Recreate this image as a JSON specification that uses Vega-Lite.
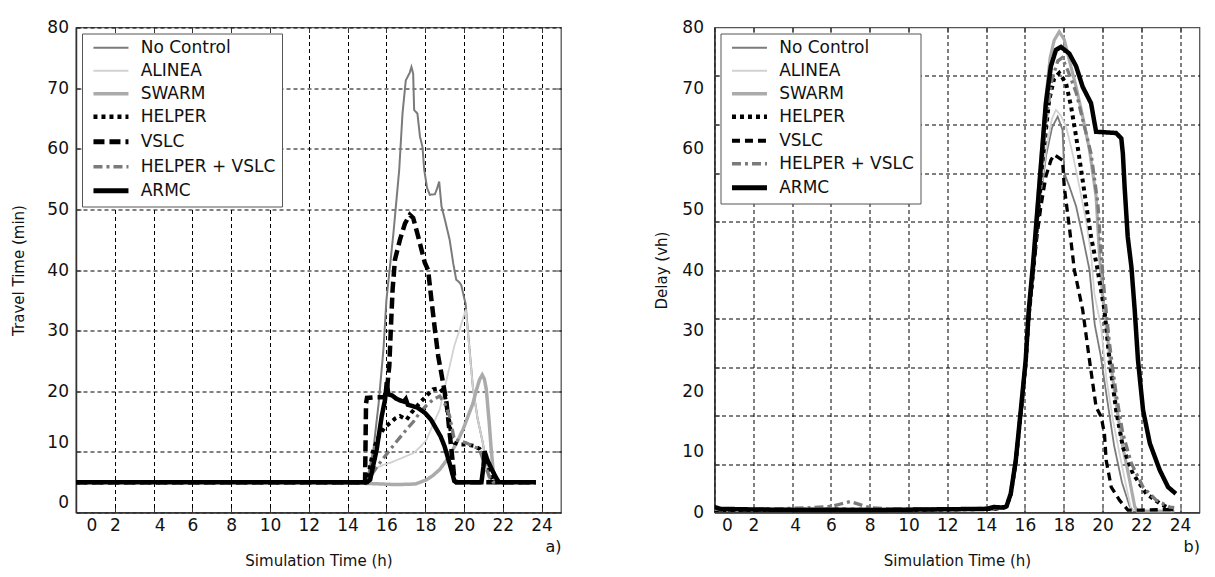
{
"$schema":"https://vega.github.io/schema/vega-lite/v6.json",
"background":"white",
"padding":{"left":11,"top":17.5,"right":5,"bottom":5},
"config":{
 "font":"DejaVu Sans",
 "view":{"stroke":"#555","strokeWidth":1.3},
 "axis":{"labelFont":"DejaVu Sans","labelFontSize":17,"labelColor":"#111","titleFont":"DejaVu Sans","titleFontSize":15,"titleFontWeight":"normal","titleColor":"#111","gridColor":"#000","gridDash":[4,3],"gridOpacity":1,"gridWidth":1,"domainColor":"#333","domainWidth":1.5,"tickColor":"#333","tickSize":-5,"tickWidth":1},
 "legend":{"labelFont":"DejaVu Sans","labelFontSize":17,"labelColor":"#111","symbolType":"M-0.39,0H4.61","symbolSize":196,"labelOffset":36,"rowPadding":5,"padding":5.7,"strokeColor":"#555","fillColor":"white","orient":"top-left","offset":6,"title":null,"labelLimit":300}
},
"datasets":{
"tt":[
{"s":"No Control","h":0,"v":5},{"s":"No Control","h":3,"v":5.1},{"s":"No Control","h":6,"v":4.9},{"s":"No Control","h":9,"v":5},{"s":"No Control","h":12,"v":5},{"s":"No Control","h":14.9,"v":5},{"s":"No Control","h":15.0,"v":5.3},{"s":"No Control","h":15.33,"v":10.4},{"s":"No Control","h":15.6,"v":18},{"s":"No Control","h":15.85,"v":27},{"s":"No Control","h":16.0,"v":35},{"s":"No Control","h":16.36,"v":46},{"s":"No Control","h":16.66,"v":56.5},{"s":"No Control","h":16.83,"v":65.8},{"s":"No Control","h":17.0,"v":71.3},{"s":"No Control","h":17.2,"v":72.5},{"s":"No Control","h":17.29,"v":73.5},{"s":"No Control","h":17.38,"v":72.4},{"s":"No Control","h":17.43,"v":66.4},{"s":"No Control","h":17.6,"v":65.8},{"s":"No Control","h":17.73,"v":62},{"s":"No Control","h":17.86,"v":60.3},{"s":"No Control","h":17.95,"v":56.5},{"s":"No Control","h":18.1,"v":53.5},{"s":"No Control","h":18.24,"v":52.4},{"s":"No Control","h":18.5,"v":52.5},{"s":"No Control","h":18.62,"v":53.5},{"s":"No Control","h":18.72,"v":54.6},{"s":"No Control","h":18.84,"v":50.5},{"s":"No Control","h":19.0,"v":48.5},{"s":"No Control","h":19.26,"v":45},{"s":"No Control","h":19.45,"v":41},{"s":"No Control","h":19.6,"v":38.4},{"s":"No Control","h":19.75,"v":38},{"s":"No Control","h":19.86,"v":37.5},{"s":"No Control","h":20.0,"v":35.5},{"s":"No Control","h":20.08,"v":34.5},{"s":"No Control","h":20.2,"v":30},{"s":"No Control","h":20.46,"v":20.6},{"s":"No Control","h":20.7,"v":15.5},{"s":"No Control","h":20.97,"v":11.5},{"s":"No Control","h":21.15,"v":8},{"s":"No Control","h":21.3,"v":5.4},{"s":"No Control","h":21.5,"v":5},{"s":"No Control","h":23.7,"v":5},
{"s":"ALINEA","h":0,"v":5},{"s":"ALINEA","h":4,"v":5},{"s":"ALINEA","h":8,"v":5},{"s":"ALINEA","h":12,"v":5},{"s":"ALINEA","h":15.0,"v":5},{"s":"ALINEA","h":15.33,"v":7.1},{"s":"ALINEA","h":15.8,"v":7.8},{"s":"ALINEA","h":16.2,"v":8.2},{"s":"ALINEA","h":16.8,"v":9},{"s":"ALINEA","h":17.4,"v":9.8},{"s":"ALINEA","h":17.8,"v":11},{"s":"ALINEA","h":18.07,"v":12},{"s":"ALINEA","h":18.4,"v":14.5},{"s":"ALINEA","h":18.75,"v":17},{"s":"ALINEA","h":19.0,"v":20.5},{"s":"ALINEA","h":19.26,"v":24.1},{"s":"ALINEA","h":19.5,"v":27.5},{"s":"ALINEA","h":19.78,"v":30.2},{"s":"ALINEA","h":20.09,"v":33.5},{"s":"ALINEA","h":20.25,"v":28},{"s":"ALINEA","h":20.46,"v":20.6},{"s":"ALINEA","h":20.7,"v":15.5},{"s":"ALINEA","h":20.97,"v":11.5},{"s":"ALINEA","h":21.15,"v":8},{"s":"ALINEA","h":21.3,"v":5.4},{"s":"ALINEA","h":21.45,"v":5},{"s":"ALINEA","h":23.7,"v":5},
{"s":"SWARM","h":0,"v":5},{"s":"SWARM","h":4,"v":5},{"s":"SWARM","h":8,"v":5},{"s":"SWARM","h":12,"v":5},{"s":"SWARM","h":15.0,"v":4.8},{"s":"SWARM","h":16.5,"v":4.6},{"s":"SWARM","h":17.5,"v":4.7},{"s":"SWARM","h":18.07,"v":5.4},{"s":"SWARM","h":18.4,"v":6.1},{"s":"SWARM","h":18.75,"v":7.1},{"s":"SWARM","h":19.1,"v":8.6},{"s":"SWARM","h":19.43,"v":10.4},{"s":"SWARM","h":19.7,"v":12},{"s":"SWARM","h":19.95,"v":13.7},{"s":"SWARM","h":20.2,"v":15.8},{"s":"SWARM","h":20.46,"v":18},{"s":"SWARM","h":20.65,"v":20.3},{"s":"SWARM","h":20.8,"v":21.9},{"s":"SWARM","h":20.94,"v":22.7},{"s":"SWARM","h":21.05,"v":22},{"s":"SWARM","h":21.15,"v":20.3},{"s":"SWARM","h":21.3,"v":14.8},{"s":"SWARM","h":21.4,"v":10.5},{"s":"SWARM","h":21.5,"v":7.1},{"s":"SWARM","h":21.6,"v":5},{"s":"SWARM","h":23.7,"v":5},
{"s":"HELPER","h":0,"v":5},{"s":"HELPER","h":4,"v":5},{"s":"HELPER","h":8,"v":5},{"s":"HELPER","h":12,"v":5},{"s":"HELPER","h":15.0,"v":5},{"s":"HELPER","h":15.15,"v":7.5},{"s":"HELPER","h":15.33,"v":10.4},{"s":"HELPER","h":15.6,"v":12.5},{"s":"HELPER","h":15.9,"v":14},{"s":"HELPER","h":16.2,"v":14.8},{"s":"HELPER","h":16.45,"v":15.5},{"s":"HELPER","h":16.7,"v":15.9},{"s":"HELPER","h":17.04,"v":15.3},{"s":"HELPER","h":17.3,"v":16.5},{"s":"HELPER","h":17.7,"v":18},{"s":"HELPER","h":18.05,"v":19.2},{"s":"HELPER","h":18.4,"v":20.3},{"s":"HELPER","h":18.75,"v":20.5},{"s":"HELPER","h":19.0,"v":19.5},{"s":"HELPER","h":19.2,"v":16},{"s":"HELPER","h":19.35,"v":12.5},{"s":"HELPER","h":19.5,"v":11.5},{"s":"HELPER","h":19.8,"v":11.2},{"s":"HELPER","h":20.1,"v":11.2},{"s":"HELPER","h":20.5,"v":11},{"s":"HELPER","h":20.8,"v":10.5},{"s":"HELPER","h":21.0,"v":9.5},{"s":"HELPER","h":21.2,"v":8},{"s":"HELPER","h":21.4,"v":6},{"s":"HELPER","h":21.55,"v":5},{"s":"HELPER","h":23.7,"v":5},
{"s":"VSLC","h":0,"v":5},{"s":"VSLC","h":4,"v":5},{"s":"VSLC","h":8,"v":5},{"s":"VSLC","h":12,"v":5},{"s":"VSLC","h":14.9,"v":5},{"s":"VSLC","h":14.95,"v":18},{"s":"VSLC","h":15.0,"v":18.9},{"s":"VSLC","h":15.4,"v":19},{"s":"VSLC","h":15.9,"v":19},{"s":"VSLC","h":16.05,"v":21},{"s":"VSLC","h":16.15,"v":24.2},{"s":"VSLC","h":16.22,"v":29.6},{"s":"VSLC","h":16.32,"v":36.8},{"s":"VSLC","h":16.44,"v":41.7},{"s":"VSLC","h":16.7,"v":45},{"s":"VSLC","h":16.96,"v":47.7},{"s":"VSLC","h":17.21,"v":49.1},{"s":"VSLC","h":17.38,"v":48.6},{"s":"VSLC","h":17.64,"v":45.5},{"s":"VSLC","h":17.98,"v":41.2},{"s":"VSLC","h":18.15,"v":40},{"s":"VSLC","h":18.32,"v":35.1},{"s":"VSLC","h":18.5,"v":30.2},{"s":"VSLC","h":18.67,"v":25.8},{"s":"VSLC","h":18.92,"v":21.4},{"s":"VSLC","h":19.1,"v":18.1},{"s":"VSLC","h":19.26,"v":13.1},{"s":"VSLC","h":19.44,"v":7.7},{"s":"VSLC","h":19.5,"v":5.5},{"s":"VSLC","h":19.6,"v":5},{"s":"VSLC","h":23.7,"v":5},
{"s":"HELPER + VSLC","h":0,"v":5},{"s":"HELPER + VSLC","h":4,"v":5},{"s":"HELPER + VSLC","h":8,"v":5},{"s":"HELPER + VSLC","h":12,"v":5},{"s":"HELPER + VSLC","h":15.0,"v":5},{"s":"HELPER + VSLC","h":15.5,"v":7.5},{"s":"HELPER + VSLC","h":16.2,"v":10.4},{"s":"HELPER + VSLC","h":16.6,"v":12},{"s":"HELPER + VSLC","h":17.04,"v":13.7},{"s":"HELPER + VSLC","h":17.4,"v":15},{"s":"HELPER + VSLC","h":17.7,"v":16.4},{"s":"HELPER + VSLC","h":18.05,"v":17.6},{"s":"HELPER + VSLC","h":18.4,"v":18.6},{"s":"HELPER + VSLC","h":18.75,"v":19.2},{"s":"HELPER + VSLC","h":19.0,"v":18},{"s":"HELPER + VSLC","h":19.26,"v":15.9},{"s":"HELPER + VSLC","h":19.5,"v":12},{"s":"HELPER + VSLC","h":19.8,"v":11.8},{"s":"HELPER + VSLC","h":20.1,"v":11.5},{"s":"HELPER + VSLC","h":20.45,"v":11},{"s":"HELPER + VSLC","h":20.8,"v":10.4},{"s":"HELPER + VSLC","h":21.1,"v":7.6},{"s":"HELPER + VSLC","h":21.3,"v":6},{"s":"HELPER + VSLC","h":21.5,"v":5},{"s":"HELPER + VSLC","h":23.7,"v":5},
{"s":"ARMC","h":0,"v":5},{"s":"ARMC","h":4,"v":5},{"s":"ARMC","h":8,"v":5},{"s":"ARMC","h":12,"v":5},{"s":"ARMC","h":15.0,"v":5},{"s":"ARMC","h":15.16,"v":5.4},{"s":"ARMC","h":15.5,"v":10.4},{"s":"ARMC","h":15.76,"v":15.9},{"s":"ARMC","h":15.93,"v":18.6},{"s":"ARMC","h":16.02,"v":21.5},{"s":"ARMC","h":16.1,"v":19.5},{"s":"ARMC","h":16.3,"v":19.3},{"s":"ARMC","h":16.5,"v":18.8},{"s":"ARMC","h":16.7,"v":18.5},{"s":"ARMC","h":16.9,"v":18.3},{"s":"ARMC","h":17.0,"v":18.7},{"s":"ARMC","h":17.1,"v":17.8},{"s":"ARMC","h":17.3,"v":17.6},{"s":"ARMC","h":17.6,"v":17.3},{"s":"ARMC","h":18.0,"v":16.4},{"s":"ARMC","h":18.3,"v":15.3},{"s":"ARMC","h":18.5,"v":14.2},{"s":"ARMC","h":18.8,"v":12.5},{"s":"ARMC","h":19.0,"v":10.9},{"s":"ARMC","h":19.3,"v":7.6},{"s":"ARMC","h":19.5,"v":5.2},{"s":"ARMC","h":19.6,"v":5},{"s":"ARMC","h":20.9,"v":5},{"s":"ARMC","h":21.0,"v":7.5},{"s":"ARMC","h":21.06,"v":10.1},{"s":"ARMC","h":21.2,"v":8.7},{"s":"ARMC","h":21.45,"v":7},{"s":"ARMC","h":21.66,"v":5.7},{"s":"ARMC","h":21.8,"v":5},{"s":"ARMC","h":23.7,"v":5}
],
"dl":[
{"s":"No Control","h":0,"v":0.4},{"s":"No Control","h":3,"v":0.5},{"s":"No Control","h":6,"v":0.5},{"s":"No Control","h":9,"v":0.5},{"s":"No Control","h":12,"v":0.5},{"s":"No Control","h":14.5,"v":0.7},{"s":"No Control","h":15.05,"v":1.0},{"s":"No Control","h":15.27,"v":3.0},{"s":"No Control","h":15.53,"v":8.4},{"s":"No Control","h":15.79,"v":16.5},{"s":"No Control","h":16.04,"v":24.6},{"s":"No Control","h":16.2,"v":32},{"s":"No Control","h":16.45,"v":40},{"s":"No Control","h":16.75,"v":50.5},{"s":"No Control","h":17.1,"v":59},{"s":"No Control","h":17.4,"v":63.5},{"s":"No Control","h":17.69,"v":65.3},{"s":"No Control","h":17.94,"v":63.1},{"s":"No Control","h":18.03,"v":56},{"s":"No Control","h":18.29,"v":53.8},{"s":"No Control","h":18.64,"v":50.5},{"s":"No Control","h":18.98,"v":45.5},{"s":"No Control","h":19.33,"v":40},{"s":"No Control","h":19.6,"v":31},{"s":"No Control","h":19.9,"v":26},{"s":"No Control","h":20.2,"v":19.5},{"s":"No Control","h":20.6,"v":11},{"s":"No Control","h":21.0,"v":5},{"s":"No Control","h":21.4,"v":1},{"s":"No Control","h":21.6,"v":0.2},{"s":"No Control","h":23.7,"v":0.2},
{"s":"ALINEA","h":0,"v":0.4},{"s":"ALINEA","h":3,"v":0.4},{"s":"ALINEA","h":6,"v":0.5},{"s":"ALINEA","h":9,"v":0.4},{"s":"ALINEA","h":12,"v":0.5},{"s":"ALINEA","h":14.5,"v":0.6},{"s":"ALINEA","h":15.05,"v":1.0},{"s":"ALINEA","h":15.27,"v":3.1},{"s":"ALINEA","h":15.53,"v":8.6},{"s":"ALINEA","h":15.79,"v":16.8},{"s":"ALINEA","h":16.04,"v":25},{"s":"ALINEA","h":16.2,"v":32.8},{"s":"ALINEA","h":16.45,"v":40.5},{"s":"ALINEA","h":16.75,"v":51},{"s":"ALINEA","h":17.1,"v":60},{"s":"ALINEA","h":17.4,"v":65},{"s":"ALINEA","h":17.6,"v":66.4},{"s":"ALINEA","h":17.85,"v":65.5},{"s":"ALINEA","h":18.12,"v":63.7},{"s":"ALINEA","h":18.46,"v":59.2},{"s":"ALINEA","h":18.81,"v":53.7},{"s":"ALINEA","h":19.15,"v":48.2},{"s":"ALINEA","h":19.41,"v":42.7},{"s":"ALINEA","h":19.58,"v":36.1},{"s":"ALINEA","h":19.93,"v":30.6},{"s":"ALINEA","h":20.19,"v":22.4},{"s":"ALINEA","h":20.54,"v":15.2},{"s":"ALINEA","h":20.88,"v":9.7},{"s":"ALINEA","h":21.23,"v":4.2},{"s":"ALINEA","h":21.49,"v":0.4},{"s":"ALINEA","h":23.7,"v":0.3},
{"s":"SWARM","h":0,"v":0.5},{"s":"SWARM","h":3,"v":0.5},{"s":"SWARM","h":6,"v":0.6},{"s":"SWARM","h":9,"v":0.5},{"s":"SWARM","h":12,"v":0.6},{"s":"SWARM","h":14.5,"v":0.7},{"s":"SWARM","h":15.05,"v":1.0},{"s":"SWARM","h":15.27,"v":3.2},{"s":"SWARM","h":15.53,"v":8.8},{"s":"SWARM","h":15.79,"v":17.2},{"s":"SWARM","h":16.04,"v":25.5},{"s":"SWARM","h":16.2,"v":33.8},{"s":"SWARM","h":16.45,"v":42.5},{"s":"SWARM","h":16.75,"v":55.5},{"s":"SWARM","h":17.1,"v":69},{"s":"SWARM","h":17.3,"v":75},{"s":"SWARM","h":17.51,"v":77.9},{"s":"SWARM","h":17.77,"v":79.3},{"s":"SWARM","h":18.03,"v":78},{"s":"SWARM","h":18.29,"v":74.6},{"s":"SWARM","h":18.64,"v":70.2},{"s":"SWARM","h":18.98,"v":65.3},{"s":"SWARM","h":19.33,"v":59.8},{"s":"SWARM","h":19.67,"v":52.1},{"s":"SWARM","h":19.84,"v":42.7},{"s":"SWARM","h":20.0,"v":36},{"s":"SWARM","h":20.36,"v":26.2},{"s":"SWARM","h":20.7,"v":18},{"s":"SWARM","h":21.05,"v":10.8},{"s":"SWARM","h":21.4,"v":5.3},{"s":"SWARM","h":21.66,"v":1},{"s":"SWARM","h":21.8,"v":0.2},{"s":"SWARM","h":23.7,"v":0.2},
{"s":"HELPER","h":0,"v":0.4},{"s":"HELPER","h":3,"v":0.4},{"s":"HELPER","h":6,"v":0.5},{"s":"HELPER","h":9,"v":0.4},{"s":"HELPER","h":12,"v":0.5},{"s":"HELPER","h":14.5,"v":0.6},{"s":"HELPER","h":15.05,"v":1.0},{"s":"HELPER","h":15.27,"v":3.0},{"s":"HELPER","h":15.53,"v":8.4},{"s":"HELPER","h":15.79,"v":16.5},{"s":"HELPER","h":16.04,"v":24.6},{"s":"HELPER","h":16.2,"v":32.5},{"s":"HELPER","h":16.45,"v":40.5},{"s":"HELPER","h":16.75,"v":52},{"s":"HELPER","h":16.91,"v":58},{"s":"HELPER","h":17.25,"v":68},{"s":"HELPER","h":17.5,"v":71.5},{"s":"HELPER","h":17.77,"v":72.5},{"s":"HELPER","h":18.12,"v":70.8},{"s":"HELPER","h":18.38,"v":67},{"s":"HELPER","h":18.64,"v":62},{"s":"HELPER","h":18.9,"v":56.5},{"s":"HELPER","h":19.15,"v":51},{"s":"HELPER","h":19.41,"v":45.5},{"s":"HELPER","h":19.72,"v":40.5},{"s":"HELPER","h":20.1,"v":33.4},{"s":"HELPER","h":20.36,"v":25.1},{"s":"HELPER","h":20.7,"v":16.9},{"s":"HELPER","h":21.05,"v":10.8},{"s":"HELPER","h":21.57,"v":6.4},{"s":"HELPER","h":22.26,"v":3.1},{"s":"HELPER","h":22.95,"v":1.5},{"s":"HELPER","h":23.47,"v":0.6},{"s":"HELPER","h":23.7,"v":0.5},
{"s":"VSLC","h":0,"v":0.4},{"s":"VSLC","h":3,"v":0.4},{"s":"VSLC","h":6,"v":0.5},{"s":"VSLC","h":9,"v":0.4},{"s":"VSLC","h":12,"v":0.5},{"s":"VSLC","h":14.5,"v":0.6},{"s":"VSLC","h":15.05,"v":1.0},{"s":"VSLC","h":15.27,"v":3.0},{"s":"VSLC","h":15.53,"v":8.4},{"s":"VSLC","h":15.79,"v":16.5},{"s":"VSLC","h":16.04,"v":24.5},{"s":"VSLC","h":16.2,"v":32},{"s":"VSLC","h":16.42,"v":39.5},{"s":"VSLC","h":16.6,"v":45},{"s":"VSLC","h":16.82,"v":50.4},{"s":"VSLC","h":17.08,"v":55.4},{"s":"VSLC","h":17.34,"v":58.1},{"s":"VSLC","h":17.51,"v":59},{"s":"VSLC","h":17.7,"v":58.6},{"s":"VSLC","h":17.94,"v":58.1},{"s":"VSLC","h":18.03,"v":53.7},{"s":"VSLC","h":18.29,"v":47.1},{"s":"VSLC","h":18.55,"v":40},{"s":"VSLC","h":18.98,"v":33.4},{"s":"VSLC","h":19.33,"v":25.1},{"s":"VSLC","h":19.67,"v":17.4},{"s":"VSLC","h":19.93,"v":15.8},{"s":"VSLC","h":20.1,"v":13},{"s":"VSLC","h":20.19,"v":8.6},{"s":"VSLC","h":20.45,"v":4.2},{"s":"VSLC","h":20.88,"v":2.0},{"s":"VSLC","h":21.31,"v":0.4},{"s":"VSLC","h":22,"v":0.4},{"s":"VSLC","h":23.7,"v":0.5},
{"s":"HELPER + VSLC","h":0,"v":0.5},{"s":"HELPER + VSLC","h":3,"v":0.6},{"s":"HELPER + VSLC","h":5,"v":0.8},{"s":"HELPER + VSLC","h":6,"v":1.0},{"s":"HELPER + VSLC","h":6.5,"v":1.4},{"s":"HELPER + VSLC","h":7.0,"v":1.8},{"s":"HELPER + VSLC","h":7.5,"v":1.3},{"s":"HELPER + VSLC","h":8,"v":0.8},{"s":"HELPER + VSLC","h":9,"v":0.6},{"s":"HELPER + VSLC","h":12,"v":0.6},{"s":"HELPER + VSLC","h":14.5,"v":0.7},{"s":"HELPER + VSLC","h":15.05,"v":1.0},{"s":"HELPER + VSLC","h":15.27,"v":3.0},{"s":"HELPER + VSLC","h":15.53,"v":8.4},{"s":"HELPER + VSLC","h":15.79,"v":16.6},{"s":"HELPER + VSLC","h":16.04,"v":24.8},{"s":"HELPER + VSLC","h":16.2,"v":33},{"s":"HELPER + VSLC","h":16.45,"v":41},{"s":"HELPER + VSLC","h":16.75,"v":53},{"s":"HELPER + VSLC","h":17.1,"v":65},{"s":"HELPER + VSLC","h":17.4,"v":71.5},{"s":"HELPER + VSLC","h":17.7,"v":74.5},{"s":"HELPER + VSLC","h":17.92,"v":75},{"s":"HELPER + VSLC","h":18.2,"v":73},{"s":"HELPER + VSLC","h":18.64,"v":69.3},{"s":"HELPER + VSLC","h":18.98,"v":64.8},{"s":"HELPER + VSLC","h":19.41,"v":59.2},{"s":"HELPER + VSLC","h":19.76,"v":51},{"s":"HELPER + VSLC","h":19.93,"v":42.7},{"s":"HELPER + VSLC","h":20.1,"v":36.1},{"s":"HELPER + VSLC","h":20.36,"v":27.9},{"s":"HELPER + VSLC","h":20.7,"v":19.6},{"s":"HELPER + VSLC","h":21.05,"v":13},{"s":"HELPER + VSLC","h":21.49,"v":8.1},{"s":"HELPER + VSLC","h":22.09,"v":4.2},{"s":"HELPER + VSLC","h":22.78,"v":2.0},{"s":"HELPER + VSLC","h":23.47,"v":0.9},{"s":"HELPER + VSLC","h":23.7,"v":0.8},
{"s":"ARMC","h":0,"v":0.9},{"s":"ARMC","h":0.3,"v":0.6},{"s":"ARMC","h":2,"v":0.5},{"s":"ARMC","h":5,"v":0.4},{"s":"ARMC","h":8,"v":0.4},{"s":"ARMC","h":11,"v":0.5},{"s":"ARMC","h":14,"v":0.6},{"s":"ARMC","h":14.4,"v":0.9},{"s":"ARMC","h":14.9,"v":0.8},{"s":"ARMC","h":15.05,"v":1.0},{"s":"ARMC","h":15.27,"v":3.1},{"s":"ARMC","h":15.53,"v":8.6},{"s":"ARMC","h":15.79,"v":16.9},{"s":"ARMC","h":16.04,"v":25.1},{"s":"ARMC","h":16.2,"v":33.4},{"s":"ARMC","h":16.42,"v":41},{"s":"ARMC","h":16.74,"v":53.8},{"s":"ARMC","h":17.08,"v":67.5},{"s":"ARMC","h":17.34,"v":73.6},{"s":"ARMC","h":17.6,"v":76.3},{"s":"ARMC","h":17.86,"v":76.8},{"s":"ARMC","h":18.29,"v":75.7},{"s":"ARMC","h":18.64,"v":73.6},{"s":"ARMC","h":18.98,"v":70.2},{"s":"ARMC","h":19.41,"v":67.5},{"s":"ARMC","h":19.67,"v":62.8},{"s":"ARMC","h":20.7,"v":62.6},{"s":"ARMC","h":20.97,"v":61.7},{"s":"ARMC","h":21.05,"v":59.2},{"s":"ARMC","h":21.14,"v":53.7},{"s":"ARMC","h":21.3,"v":45.5},{"s":"ARMC","h":21.49,"v":40.5},{"s":"ARMC","h":21.66,"v":33.4},{"s":"ARMC","h":21.83,"v":25.1},{"s":"ARMC","h":22.09,"v":16.9},{"s":"ARMC","h":22.44,"v":11.4},{"s":"ARMC","h":22.95,"v":7},{"s":"ARMC","h":23.38,"v":4.2},{"s":"ARMC","h":23.78,"v":3.1}
]
},
"spacing":90.5,
"hconcat":[
{
 "width":485,"height":485,
 "layer":[
  {"data":{"name":"tt"},
   "mark":{"type":"line","clip":true,"strokeWidth":{"expr":"datum.s === 'ARMC' ? 4.5 : datum.s === 'VSLC' ? 4.5 : datum.s === 'HELPER' ? 4 : datum.s === 'SWARM' ? 3.5 : datum.s === 'HELPER + VSLC' ? 3.3 : datum.s === 'No Control' ? 2 : 1.8"}},
   "encoding":{
    "x":{"field":"h","type":"quantitative","scale":{"domain":[0,25],"nice":false,"zero":false},
         "axis":{"orient":"bottom","title":"Simulation Time (h)","values":[0,2,4,6,8,10,12,14,16,18,20,22,24],"grid":true,"labelPadding":9.5,"titlePadding":20,
                 "labelOffset":{"condition":[{"test":"datum.value===0","value":10},{"test":"datum.value===4","value":6}],"value":0}}},
    "y":{"field":"v","type":"quantitative","scale":{"domain":[0,80],"nice":false},
         "axis":{"title":"Travel Time (min)","values":[0,10,20,30,40,50,60,70,80],"grid":true,"labelPadding":12.5,"titlePadding":20,
                 "labelOffset":{"condition":[{"test":"datum.value===0","value":-10},{"test":"datum.value===10","value":-9}],"value":0}}},
    "color":{"field":"s","type":"nominal","scale":{"domain":["No Control","ALINEA","SWARM","HELPER","VSLC","HELPER + VSLC","ARMC"],"range":["#7b7b7b","#d2d2d2","#ababab","#000000","#000000","#7a7a7a","#000000"]},
             "legend":{"orient":"top-left","title":null,"symbolStrokeWidth":{"expr":"datum.value === 'ARMC' ? 5 : datum.value === 'VSLC' ? 5 : datum.value === 'HELPER' ? 4.5 : datum.value === 'SWARM' ? 3.5 : datum.value === 'HELPER + VSLC' ? 3.5 : 2"}}},
    "strokeDash":{"field":"s","type":"nominal","scale":{"domain":["No Control","ALINEA","SWARM","HELPER","VSLC","HELPER + VSLC","ARMC"],"range":[[1,0],[1,0],[1,0],[4,4],[11,5],[9,4,3,4],[1,0]]},
             "legend":{"orient":"top-left","title":null,"symbolStrokeWidth":{"expr":"datum.value === 'ARMC' ? 5 : datum.value === 'VSLC' ? 5 : datum.value === 'HELPER' ? 4.5 : datum.value === 'SWARM' ? 3.5 : datum.value === 'HELPER + VSLC' ? 3.5 : 2"}}}
   }},
  {"data":{"values":[{}]},"mark":{"type":"point","opacity":0},
   "encoding":{
    "x":{"datum":0,"type":"quantitative","axis":{"orient":"top","labels":false,"title":null,"grid":false,"domain":false,"values":[2,4,6,8,10,12,14,16,18,20,22,24]}},
    "y":{"datum":0,"type":"quantitative","axis":{"orient":"right","labels":false,"title":null,"grid":false,"domain":false,"values":[10,20,30,40,50,60,70]}}
   }},
  {"data":{"values":[{}]},"mark":{"type":"point","opacity":0},
   "encoding":{
    "x":{"datum":0,"type":"quantitative","axis":{"orient":"bottom","labels":false,"ticks":false,"grid":false,"domain":false,"title":"a)","titleAnchor":"end","titleFontSize":16,"titlePadding":26}}
   }}
 ],
 "resolve":{"axis":{"x":"independent","y":"independent"}}
},
{
 "width":485,"height":485,
 "layer":[
  {"data":{"name":"dl"},
   "mark":{"type":"line","clip":true,"strokeWidth":{"expr":"datum.s === 'ARMC' ? 4.5 : datum.s === 'VSLC' ? 3.3 : datum.s === 'HELPER' ? 4 : datum.s === 'SWARM' ? 3.2 : datum.s === 'HELPER + VSLC' ? 3.3 : datum.s === 'No Control' ? 1.8 : 1.8"}},
   "encoding":{
    "x":{"field":"h","type":"quantitative","scale":{"domain":[0,25],"nice":false,"zero":false},
         "axis":{"orient":"bottom","title":"Simulation Time (h)","values":[0,2,4,6,8,10,12,14,16,18,20,22,24],"grid":true,"labelPadding":9.5,"titlePadding":20,
                 "labelOffset":{"condition":[{"test":"datum.value===0","value":7},{"test":"datum.value===4","value":3}],"value":0}}},
    "y":{"field":"v","type":"quantitative","scale":{"domain":[0,80],"nice":false},
         "axis":{"title":"Delay (vh)","values":[0,10,20,30,40,50,60,70,80],"grid":false,"ticks":false,"labelPadding":11,"titlePadding":12}},
    "color":{"field":"s","type":"nominal","scale":{"domain":["No Control","ALINEA","SWARM","HELPER","VSLC","HELPER + VSLC","ARMC"],"range":["#7b7b7b","#d2d2d2","#ababab","#000000","#000000","#7a7a7a","#000000"]},
             "legend":{"orient":"top-left","title":null,"symbolStrokeWidth":{"expr":"datum.value === 'ARMC' ? 5 : datum.value === 'VSLC' ? 4 : datum.value === 'HELPER' ? 4.5 : datum.value === 'SWARM' ? 3.5 : datum.value === 'HELPER + VSLC' ? 3.5 : 2"}}},
    "strokeDash":{"field":"s","type":"nominal","scale":{"domain":["No Control","ALINEA","SWARM","HELPER","VSLC","HELPER + VSLC","ARMC"],"range":[[1,0],[1,0],[1,0],[4,4],[8,5],[9,4,3,4],[1,0]]},
             "legend":{"orient":"top-left","title":null,"symbolStrokeWidth":{"expr":"datum.value === 'ARMC' ? 5 : datum.value === 'VSLC' ? 4 : datum.value === 'HELPER' ? 4.5 : datum.value === 'SWARM' ? 3.5 : datum.value === 'HELPER + VSLC' ? 3.5 : 2"}}}
   }},
  {"data":{"values":[{}]},"mark":{"type":"point","opacity":0},
   "encoding":{
    "x":{"datum":0,"type":"quantitative","axis":{"orient":"top","labels":false,"title":null,"grid":false,"domain":false,"values":[2,4,6,8,10,12,14,16,18,20,22,24]}},
    "y":{"datum":0,"type":"quantitative","axis":{"orient":"left","labels":false,"title":null,"grid":true,"domain":false,"values":[8,16,24,32,40,48,56,64,72]}}
   }},
  {"data":{"values":[{}]},"mark":{"type":"point","opacity":0},
   "encoding":{
    "x":{"datum":0,"type":"quantitative","axis":{"orient":"bottom","labels":false,"ticks":false,"grid":false,"domain":false,"title":"b)","titleAnchor":"end","titleFontSize":16,"titlePadding":26}}
   }}
 ],
 "resolve":{"axis":{"x":"independent","y":"independent"}}
}
],
"resolve":{"scale":{"x":"independent","y":"independent","color":"independent","strokeDash":"independent"},"legend":{"color":"independent","strokeDash":"independent"}}
}
